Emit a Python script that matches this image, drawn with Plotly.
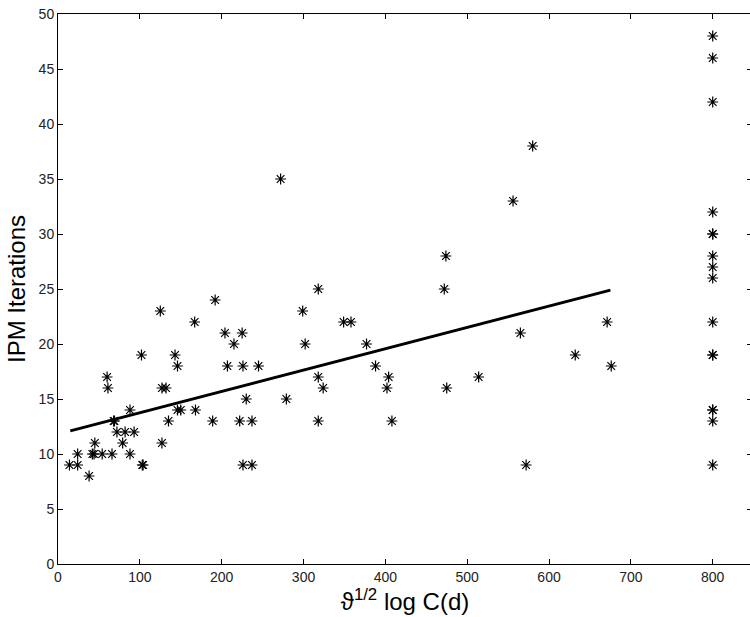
import plotly.graph_objects as go

# scatter data: sqrt(theta) * log C(d) vs IPM iterations
x_pts = [14, 24, 24, 38, 42, 44, 45, 54, 60, 61, 66, 68, 69, 72, 79, 82, 88, 88,
         93, 102, 103, 104, 125, 127, 127, 132, 135, 143, 146, 146, 150, 167, 168,
         189, 192, 204, 207, 215, 222, 225, 226, 226, 230, 237, 237, 245, 272, 279,
         299, 302, 318, 318, 318, 324, 349, 358, 377, 388, 402, 404, 408, 472, 474,
         475, 514, 556, 565, 572, 580, 632, 671, 676,
         800, 800, 800, 800, 800, 800, 800, 800, 800, 800, 800, 800, 800, 800, 800, 800]
y_pts = [9, 9, 10, 8, 10, 10, 11, 10, 17, 16, 10, 13, 13, 12, 11, 12, 10, 14,
         12, 19, 9, 9, 23, 11, 16, 16, 13, 19, 18, 14, 14, 22, 14,
         13, 24, 21, 18, 20, 13, 21, 18, 9, 15, 13, 9, 18, 35, 15,
         23, 20, 25, 17, 13, 16, 22, 22, 20, 18, 16, 17, 13, 25, 28,
         16, 17, 33, 21, 9, 38, 19, 22, 18,
         48, 46, 42, 32, 30, 30, 28, 27, 26, 22, 19, 19, 14, 14, 13, 9]

# fitted line
fit_x = [15, 675]
fit_y = [12.1, 24.9]

x_ticks = [0, 100, 200, 300, 400, 500, 600, 700, 800]
y_ticks = [0, 5, 10, 15, 20, 25, 30, 35, 40, 45, 50]

fig = go.Figure()
fig.add_trace(go.Scatter(
    x=x_pts, y=y_pts, mode="markers",
    marker=dict(symbol="asterisk-open", size=9, color="black",
                line=dict(color="black", width=1.2)),
    showlegend=False))
fig.add_trace(go.Scatter(
    x=fit_x, y=fit_y, mode="lines",
    line=dict(color="black", width=3), showlegend=False))

axis_common = dict(
    showgrid=False, zeroline=False, showline=True, linecolor="black",
    linewidth=1, mirror="ticks", ticks="inside", ticklen=5, tickcolor="black",
    automargin=False,
    tickfont=dict(family="Liberation Sans, Arial", size=14, color="#222"),
)

# figure is a bit wider than the window so the right frame line falls just off-screen
fig.update_layout(
    width=752, height=617,
    margin=dict(l=58, r=0, t=14, b=53),
    plot_bgcolor="white", paper_bgcolor="white",
    xaxis=dict(range=[0, 848], tickvals=x_ticks,
               title=dict(text="ϑ<sup>1/2</sup> log C(d)", standoff=1,
                          font=dict(family="Liberation Sans, Arial", size=24, color="black")),
               **axis_common),
    yaxis=dict(range=[0, 50], tickvals=y_ticks,
               title=dict(text="IPM Iterations", standoff=6,
                          font=dict(family="Liberation Sans, Arial", size=24, color="black")),
               **axis_common),
)

# drop the default page margin so the figure sits at the window's corner
fig.write_html("out.html",
               config={"displayModeBar": False},
               post_script="document.body.style.margin='0';"
                           "document.body.style.overflow='hidden';")
